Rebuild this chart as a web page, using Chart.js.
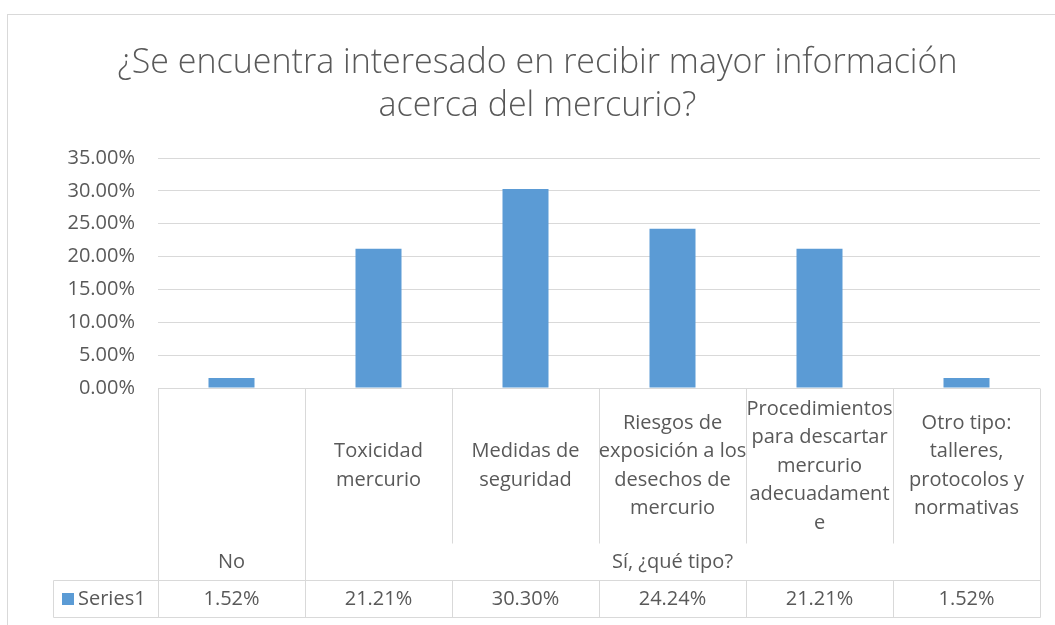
<!DOCTYPE html>
<html>
<head>
<meta charset="utf-8">
<script src="https://cdn.jsdelivr.net/npm/chart.js@4"></script>
<style>
  body { margin: 0; background: #fff; }
  #frame { position: absolute; left: 7px; top: 14px; width: 1100px; height: 700px;
           border-left: 1px solid #d9d9d9; border-top: 1px solid #d9d9d9; }
  #wrap { position: absolute; left: 0; top: 0; width: 1055px; height: 625px; }
</style>
</head>
<body>
<div id="frame"></div>
<div id="wrap"><canvas id="myChart"></canvas></div>
<script>
const titleLines = ['¿Se encuentra interesado en recibir mayor información', 'acerca del mercurio?'];
const groups = ['No', 'Sí, ¿qué tipo?'];
const groupOf = [0, 1, 1, 1, 1, 1];
const categories = [
    [''],
    ['Toxicidad', 'mercurio'],
    ['Medidas de', 'seguridad'],
    ['Riesgos de', 'exposición a los', 'desechos de', 'mercurio'],
    ['Procedimientos', 'para descartar', 'mercurio', 'adecuadament', 'e'],
    ['Otro tipo:', 'talleres,', 'protocolos y', 'normativas']
];
const seriesName = 'Series1';
const values = [1.52, 21.21, 30.30, 24.24, 21.21, 1.52];
const yMax = 35;
const yStep = 5;

const textColor = '#595959';
const lineColor = '#d9d9d9';
const barColor = '#5b9bd5';
const font = '"Open Sans", sans-serif';

const ctx = document.getElementById('myChart');

// data table under the plot, drawn from the x scale positions
const tablePlugin = {
    id: 'dataTable',
    afterDraw(chart) {
        const c = chart.ctx;
        const a = chart.chartArea;
        const x = chart.scales.x;
        const n = values.length;
        const w = (a.right - a.left) / n;
        const yTop = a.bottom;
        const yGroup = yTop + 155;
        const yRow = yTop + 192;
        const yEnd = yTop + 229;
        const tableLeft = 53;

        c.save();
        c.strokeStyle = lineColor;
        c.lineWidth = 1;
        const line = (x1, y1, x2, y2) => {
            c.beginPath();
            c.moveTo(Math.round(x1) + 0.5, Math.round(y1) + 0.5);
            c.lineTo(Math.round(x2) + 0.5, Math.round(y2) + 0.5);
            c.stroke();
        };
        for (let i = 0; i <= n; i++) {
            const bx = x.getPixelForValue(i) - w / 2;
            const isGroupEdge = i == 0 || i == n || groupOf[i] != groupOf[i - 1];
            if (isGroupEdge) {
                line(bx, yTop, bx, yEnd);
            } else {
                line(bx, yTop, bx, yGroup);
                line(bx, yRow, bx, yEnd);
            }
        }
        line(tableLeft, yRow, a.right, yRow);
        line(tableLeft, yEnd, a.right, yEnd);
        line(tableLeft, yRow, tableLeft, yEnd);

        c.fillStyle = textColor;
        c.font = '20px ' + font;
        c.textAlign = 'center';
        c.textBaseline = 'middle';
        const lh = 28.5;
        const midY = yTop + 78;
        for (let i = 0; i < n; i++) {
            const cx = x.getPixelForValue(i);
            const lines = categories[i];
            lines.forEach((t, k) => {
                c.fillText(t, cx, midY + (k - (lines.length - 1) / 2) * lh);
            });
            c.fillText(values[i].toFixed(2) + '%', cx, yRow + 19);
        }
        groups.forEach((g, gi) => {
            const idx = groupOf.map((v, i) => v == gi ? i : -1).filter(i => i >= 0);
            const gx = (x.getPixelForValue(idx[0]) + x.getPixelForValue(idx[idx.length - 1])) / 2;
            c.fillText(g, gx, yTop + 174);
        });

        c.fillStyle = barColor;
        c.fillRect(62, yRow + 13, 12, 12);
        c.fillStyle = textColor;
        c.textAlign = 'left';
        c.fillText(seriesName, 78, yRow + 19);
        c.restore();
    }
};

new Chart(ctx, {
    type: 'bar',
    data: {
        labels: categories.map(l => l.join(' ')),
        datasets: [{
            label: seriesName,
            data: values,
            backgroundColor: barColor,
            barPercentage: 0.313,
            categoryPercentage: 1
        }]
    },
    options: {
        responsive: true,
        maintainAspectRatio: false,
        animation: false,
        layout: {
            padding: { left: 35, right: 15, top: 0, bottom: 237 }
        },
        plugins: {
            legend: { display: false },
            tooltip: { enabled: false },
            title: {
                display: true,
                text: titleLines,
                color: textColor,
                font: { family: font, size: 34, weight: '300', lineHeight: 1.265 },
                padding: { top: 42, bottom: 30 }
            }
        },
        scales: {
            x: {
                display: false
            },
            y: {
                min: 0,
                max: yMax,
                afterFit: s => { s.width = 123; },
                border: { display: false },
                grid: { color: lineColor, drawTicks: false },
                ticks: {
                    stepSize: yStep,
                    padding: 23,
                    color: textColor,
                    font: { family: font, size: 20 },
                    callback: v => v.toFixed(2) + '%'
                }
            }
        }
    },
    plugins: [tablePlugin]
});
</script>
</body>
</html>
